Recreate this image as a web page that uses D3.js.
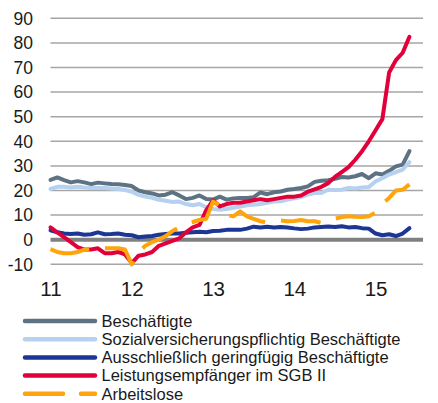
<!DOCTYPE html>
<html><head><meta charset="utf-8">
<script src="https://cdn.jsdelivr.net/npm/d3@7"></script>
<style>body{margin:0;background:#fff}svg{display:block}text{font-family:"Liberation Sans",Arial,sans-serif;fill:#1a1a1a}</style>
</head><body><svg id="c" width="438" height="403"></svg>
<script>
const yearLabels = ["11","12","13","14","15"];
const yTicks = [-10,0,10,20,30,40,50,60,70,80,90];
const seriesNames = ["Beschäftigte","Sozialversicherungspflichtig Beschäftigte","Ausschließlich geringfügig Beschäftigte","Leistungsempfänger im SGB II","Arbeitslose"];
const beschaeftigte = [24.3,25.3,24.2,23.3,23.8,23.3,22.6,23.2,22.9,22.6,22.5,22.2,21.8,20,19.3,18.8,18,18.3,19.3,18,16.5,17,18,16.5,16.3,17.5,16.3,16.8,17,17,17.3,19.2,18.5,19.3,19.6,20.3,20.6,21,21.7,23.5,24,24.2,24.8,25.5,25.3,25.8,26.7,25,27,26.5,28,29.8,30.5,36];
const sozial = [20.6,21.5,21.5,21.2,21.5,21.2,21,21,21,20.8,20.6,20.2,19.5,18.2,17.5,17,16.2,15.8,15.3,15.5,14.5,14,14.5,13.2,12.5,12.2,12.5,13,13.5,14,14.2,14.5,15,15.5,15.6,16.3,16.8,17.3,18.3,19,19,20.3,20.2,20.3,21,20.8,21.2,21.4,23.7,25,26.5,27.5,28.5,31.5];
const geringfuegig = [3.8,3,2.5,2.3,2.5,2,2.2,3,2.2,2.3,2.5,2,1.8,1,1.3,1.5,2,2.3,2.5,2.5,2.8,3,3.2,3,3.5,3.6,4,4,4,4.5,5.3,5,5.3,5,5.2,5,4.6,4.3,4.5,5,5.2,5.4,5.2,5.5,5,5.2,4.7,4.5,2.5,1.8,2.2,1.5,2.5,4.7];
const sgb2 = [5,3,1,-1,-3,-4,-4,-3.5,-5.5,-5.5,-5,-6,-9.5,-6.5,-6,-5,-2.5,-1.5,-0.5,0.5,3,5,6,12,16,13.5,14.5,15,15,15.5,16,16.5,16,16.5,17,17.5,17.5,18,19.5,20.5,21.5,23,25.5,27.5,29.5,32.5,36,40,44.5,49,68,73,76,82.5];
const arbeitslose = [-3.8,-5,-5.5,-5.5,-5,-4,-3.5,-4,-3.5,-3.5,-3.5,-4,-10,-5,-2.5,-1,0,1.5,3.5,5,6.5,7.2,8,8.5,15.5,14,10,9.5,11.5,9.5,8.5,7.5,7,7.2,7.8,7.5,7.6,8,7.5,7.5,6.8,7.5,8.5,9.2,9.5,9.3,9.2,9.5,11,14.5,17,20,20.3,22.5];
const colors = ["#5d7383","#b5d1ef","#1d3594","#e2003a","#ffa40a"];
const allSeries = [beschaeftigte, sozial, geringfuegig, sgb2, arbeitslose];

const svg = d3.select("#c");
const x = d3.scaleLinear().domain([0,55]).range([50.5,423]);
const y = d3.scaleLinear().domain([-10,90]).range([264.3,18.3]);

// grid
svg.append("g").selectAll("line").data(yTicks).join("line")
  .attr("x1",x(0)).attr("x2",x(55))
  .attr("y1",d=>y(d)).attr("y2",d=>y(d))
  .attr("stroke",d=>d===0?"#808080":"#a6a6a6")
  .attr("stroke-width",d=>d===0?4:1.5);

// y labels
svg.append("g").selectAll("text").data(yTicks).join("text")
  .attr("x",33).attr("y",d=>y(d)).attr("dy","0.36em")
  .attr("text-anchor","end").attr("font-size",17.5).text(d=>d);

// x labels
svg.append("g").selectAll("text").data(yearLabels).join("text")
  .attr("x",(d,i)=>x(i*12)+0.5).attr("y",295.5)
  .attr("text-anchor","middle").attr("font-size",20.5).text(d=>d);

const line = d3.line().x((d,i)=>x(i)).y(d=>y(d));
allSeries.forEach((s,k)=>{
  svg.append("path").datum(s).attr("d",line)
    .attr("fill","none").attr("stroke",colors[k]).attr("stroke-width",4)
    .attr("stroke-linejoin","round").attr("stroke-linecap",k===4?"butt":"round")
    .attr("stroke-dasharray",k===4?"40,16":null);
});

// legend
const lg = svg.append("g");
seriesNames.forEach((n,k)=>{
  const cy = 321 + k*18.2;
  lg.append("line").attr("x1",25).attr("x2",95).attr("y1",cy).attr("y2",cy)
    .attr("stroke",colors[k]).attr("stroke-width",4.5).attr("stroke-linecap","round")
    .attr("stroke-dasharray",k===4?"38,18":null);
  lg.append("text").attr("x",101.5).attr("y",cy).attr("dy","0.35em")
    .attr("font-size",16.5).text(n);
});
</script></body></html>
